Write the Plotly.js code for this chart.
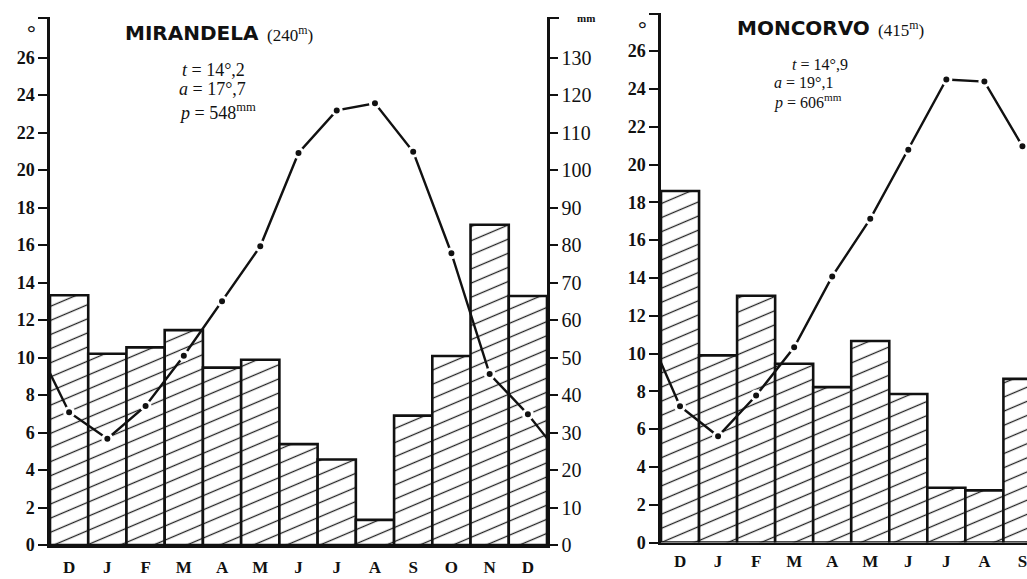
<!DOCTYPE html>
<html><head><meta charset="utf-8">
<script src="https://cdn.plot.ly/plotly-3.0.1.min.js"></script>
<style>html,body{margin:0;padding:0;background:#fff;overflow:hidden}</style>
</head><body><div id="chart" style="width:1027px;height:579px"></div>
<script>
// ---- data ----
const mirMonths = ['D','J','F','M','A','M','J','J','A','S','O','N','D'];
const mirPrecip = [66.6, 51.0, 52.7, 57.3, 47.3, 49.4, 26.9, 22.8, 6.7, 34.5, 50.4, 85.4, 66.4]; // mm
const mirTemp   = [7.08, 5.67, 7.42, 10.09, 13.0, 15.93, 20.91, 23.18, 23.56, 20.97, 15.56, 9.12, 6.97]; // °C
const mirTempEdges = [9.16, 5.69]; // curve at left and right edges

const monMonths = ['D','J','F','M','A','M','J','J','A','S'];
const monPrecip = [93.0, 49.5, 65.3, 47.3, 41.1, 53.3, 39.3, 14.5, 13.8, 43.3]; // mm
const monTemp   = [7.21, 5.62, 7.78, 10.33, 14.08, 17.13, 20.79, 24.5, 24.39, 20.97]; // °C
const monTempEdgeStart = 9.51;

const tempTicks = [0,2,4,6,8,10,12,14,16,18,20,22,24,26];
const mmTicks = [0,10,20,30,40,50,60,70,80,90,100,110,120,130];

// ---- helpers ----
const W = 1027, H = 579;
const px = v => v / W, py = v => 1 - v / H;
const idx = a => a.map((_, i) => i);
const INK = '#111';
const serif = 'Liberation Serif, DejaVu Serif, serif';

const pattern = {shape: '-', size: 13, solidity: 0.1, fgcolor: '#222', bgcolor: '#fff', fillmode: 'replace'};

function barTrace(months, vals, xa, ya) {
  return {type: 'bar', x: idx(months), y: vals, xaxis: xa, yaxis: ya, width: 1,
    marker: {color: '#fff', pattern: pattern, line: {color: INK, width: 2.6}},
    hoverinfo: 'skip', showlegend: false};
}
function lineTrace(xs, ys, xa, ya) {
  return {type: 'scatter', mode: 'lines', x: xs, y: ys, xaxis: xa, yaxis: ya,
    line: {color: INK, width: 2.4}, hoverinfo: 'skip', showlegend: false};
}
function dotTrace(months, vals, xa, ya) {
  return {type: 'scatter', mode: 'markers', x: idx(months), y: vals, xaxis: xa, yaxis: ya,
    marker: {color: INK, size: 9, line: {color: '#fff', width: 3}}, hoverinfo: 'skip', showlegend: false};
}

const mirLineX = [-0.5].concat(idx(mirMonths), [mirMonths.length - 0.5]);
const mirLineY = [mirTempEdges[0]].concat(mirTemp, [mirTempEdges[1]]);
const monLineX = [-0.5].concat(idx(monMonths));
const monLineY = [monTempEdgeStart].concat(monTemp);

const data = [
  barTrace(mirMonths, mirPrecip, 'x', 'y'),
  lineTrace(mirLineX, mirLineY, 'x', 'y2'),
  dotTrace(mirMonths, mirTemp, 'x', 'y2'),
  barTrace(monMonths, monPrecip, 'x2', 'y3'),
  lineTrace(monLineX, monLineY, 'x2', 'y4'),
  dotTrace(monMonths, monTemp, 'x2', 'y4')
];

const monthFont = {family: serif, size: 17, color: INK, weight: 'bold'};
const tempFont = {family: serif, size: 18, color: INK, weight: 'bold'};
const mmFont = {family: serif, size: 20, color: INK};

const baseAxis = {showgrid: false, zeroline: false, showline: true, linecolor: INK, linewidth: 2.6, fixedrange: true};
const hook = v => ({tickvals: [v], ticks: 'outside', ticklen: 9, tickwidth: 2, tickcolor: INK, showgrid: false});

const layout = {
  width: W, height: H, margin: {l: 0, r: 0, t: 0, b: 0},
  paper_bgcolor: '#fff', plot_bgcolor: 'rgba(0,0,0,0)', bargap: 0, showlegend: false,
  xaxis: Object.assign({}, baseAxis, {domain: [px(50), px(547)], range: [-0.5, 12.5], anchor: 'y',
    tickvals: idx(mirMonths), ticktext: mirMonths, ticks: '', tickfont: monthFont, ticklabelstandoff: 5}),
  yaxis: Object.assign({}, baseAxis, {domain: [1 - 545/H, 1 - 17/H], range: [0, 140.8], anchor: 'x', side: 'right',
    tickvals: mmTicks, ticktext: mmTicks.map(String), minor: hook(140.5),
    ticks: 'outside', ticklen: 8, tickwidth: 2, tickcolor: INK, tickfont: mmFont}),
  yaxis2: Object.assign({}, baseAxis, {overlaying: 'y', anchor: 'x', side: 'left', range: [0, 28.16],
    tickvals: tempTicks, ticktext: tempTicks.map(String), minor: hook(28.1),
    ticks: 'outside', ticklen: 9, tickwidth: 2, tickcolor: INK, tickfont: tempFont}),
  xaxis2: Object.assign({}, baseAxis, {domain: [px(661), 1], range: [-0.5, 9.12], anchor: 'y3',
    tickvals: idx(monMonths), ticktext: monMonths, ticks: '', tickfont: monthFont, ticklabelstandoff: 1,
    ticklabeloverflow: 'allow'}),
  yaxis3: {domain: [1 - 542.5/H, 1 - 13/H], range: [0, 140.1], anchor: 'x2', visible: false, fixedrange: true},
  yaxis4: Object.assign({}, baseAxis, {overlaying: 'y3', anchor: 'x2', side: 'left', range: [0, 28.02],
    tickvals: tempTicks, ticktext: tempTicks.map(String), minor: hook(27.95),
    ticks: 'outside', ticklen: 9, tickwidth: 2, tickcolor: INK, tickfont: tempFont}),
  annotations: []
};

function note(text, x, y, font, xanchor) {
  layout.annotations.push({text: text, xref: 'paper', yref: 'paper', x: px(x), y: py(y),
    xanchor: xanchor || 'center', yanchor: 'middle', showarrow: false, font: Object.assign({color: INK}, font)});
}
const titleFont = {family: 'DejaVu Sans, sans-serif', size: 20, weight: 'bold'};
const paren = {family: serif, size: 17};
const statL = {family: serif, size: 18};
const statR = {family: serif, size: 16};

note('MIRANDELA', 192, 33, titleFont);
note('(240<sup>m</sup>)', 265, 34, paren, 'left');
note('<i>t</i> = 14°,2', 180, 70, statL, 'left');
note('<i>a</i> = 17°,7', 177, 89, statL, 'left');
note('<i>p</i> = 548<sup>mm</sup>', 177, 111, statL, 'left');
note('°', 31, 33, {family: serif, size: 22, weight: 'bold'});
note('mm', 586, 18, {family: serif, size: 11, weight: 'bold'});

note('MONCORVO', 803, 28, titleFont);
note('(415<sup>m</sup>)', 876, 29, paren, 'left');
note('<i>t</i> = 14°,9', 790, 64, statR, 'left');
note('<i>a</i> = 19°,1', 772, 82, statR, 'left');
note('<i>p</i> = 606<sup>mm</sup>', 772, 102, statR, 'left');
note('°', 642, 28, {family: serif, size: 22, weight: 'bold'});

Plotly.newPlot('chart', data, layout, {staticPlot: true, displayModeBar: false}).then(gd => {
  gd.querySelectorAll('pattern').forEach(p => p.setAttribute('patternTransform', 'rotate(-23)'));
});
</script>
</body></html>
